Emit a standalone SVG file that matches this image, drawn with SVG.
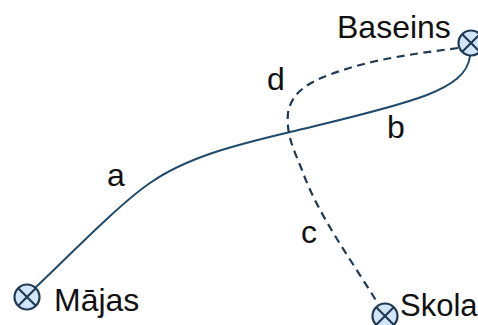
<svg xmlns="http://www.w3.org/2000/svg" width="478" height="325" viewBox="0 0 478 325">
<style>
.n{fill:#d3e6f9;stroke:#1f3a52;stroke-width:2.2}
.x{fill:none;stroke:#1f3a52;stroke-width:2.2}
.l{fill:none;stroke:#1f4a6b;stroke-width:2}
.d{fill:none;stroke:#1f3a52;stroke-width:2.200;stroke-dasharray:8 5.500}
text{font-family:"Liberation Sans",Arial,sans-serif;font-size:32px;fill:#111}
</style>
<rect width="478" height="325" fill="#fff"/>
<g id="connectors">
<path class="l" d="M35 288C70 255 118 205 150 183C190 155 245 143 290 132C335 121 390 109 427 95C452 85 468 74 470 56"/>
<path class="d" d="M458 48C420 53 380 58 343 70C312 80 292 90 288 113C286 135 294 150 302 170C318 215 350 258 377 302"/>
</g>
<g id="node-majas"><circle class="n" cx="27" cy="297" r="12.500"/><path class="x" d="M18.500 288.500L35.500 305.500M35.500 288.500L18.500 305.500"/><text x="54" y="311">Mājas</text></g>
<g id="node-baseins"><circle class="n" cx="471" cy="43" r="12.500"/><path class="x" d="M462.500 34.500L479.500 51.500M479.500 34.500L462.500 51.500"/><text x="337" y="38">Baseins</text></g>
<g id="node-skola"><circle class="n" cx="385" cy="316" r="12.500"/><path class="x" d="M376.500 307.500L393.500 324.500M393.500 307.500L376.500 324.500"/><text x="400" y="316" style="font-size:31px">Skola</text></g>
<g id="labels"><text x="107" y="186">a</text><text x="387" y="138">b</text><text x="301" y="243">c</text><text x="267" y="90">d</text></g>
</svg>
